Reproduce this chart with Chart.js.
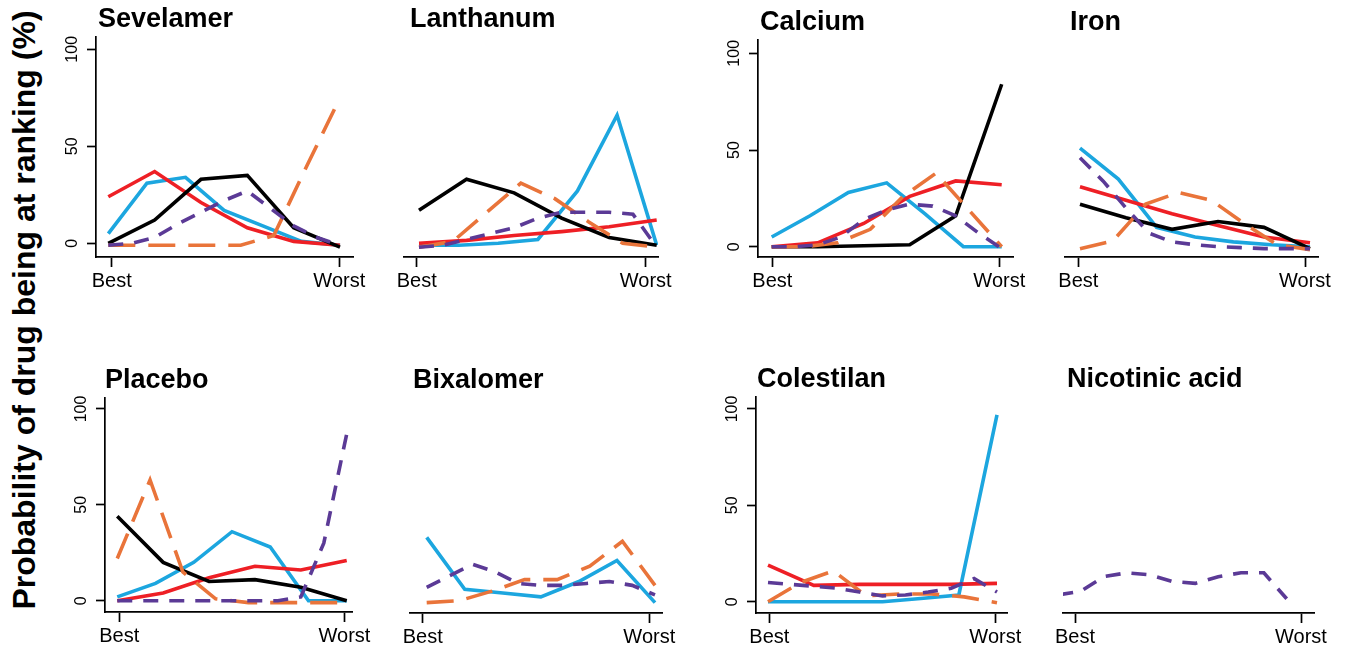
<!DOCTYPE html>
<html><head><meta charset="utf-8">
<script src="https://cdn.jsdelivr.net/npm/chart.js@4.4.1/dist/chart.umd.min.js"></script>
<style>
html,body{margin:0;padding:0;background:#fff;}
body{width:1349px;height:648px;position:relative;overflow:hidden;font-family:"Liberation Sans",Arial,sans-serif;}
canvas.panel{position:absolute;}
#ytitle{position:absolute;left:-326px;top:289.5px;width:700px;height:40px;line-height:40px;text-align:center;font-weight:bold;font-size:32px;transform:rotate(-90deg);white-space:nowrap;color:#000;}
</style></head><body>
<div id="ytitle">Probability of drug being at ranking (%)</div>
<script>
// ---------- DATA ----------
const drugs = ['Sevelamer','Lanthanum','Calcium','Iron','Placebo','Bixalomer','Colestilan','Nicotinic acid'];
const rankLabels = ['Best','Worst'];
const yTickValues = [0, 50, 100];

// one entry per drug (same order as drugs); null = drug not in that network
const redLine = [
  [24, 37, 21, 8, 1, -1],
  [0, 1.5, 4, 6, 8.5, 12],
  [0, 2, 12, 26, 34, 32],
  [31, 24, 17, 11, 5, 2],
  [0, 4, 12, 18, 16, 21],
  null,
  [19, 8.5, 9, 9, 9, 9.5],
  null
];
const blueLine = [
  [5, 31, 34, 17, 9, 1, -1],
  [-1, -1, 0, 2, 27, 66, -1],
  [5, 16, 28, 33, 17, 0, 0],
  [51, 35, 10, 5, 2.5, 1, 0],
  [2, 9, 20, 36, 28, 0, 0],
  [33, 6, 4, 2, 10, 21, -1],
  [0, 0, 0, 0, 1.7, 3.5, 97],
  null
];
const blackLine = [
  [0, 12, 33, 35, 8, -2],
  [17, 33, 26, 13, 3, -1],
  [0, 0, 0.5, 1, 16, 84],
  [22, 15, 9, 13, 10, -1],
  [44, 20, 10, 11, 7, 0],
  null,
  null,
  null
];
const orangeLine = [
  [-1, -1, -1, -1, -1, 4, 40, 75],
  [-2, 1, 16, 31, 23, 11, 0, -2],
  [0, 0, 2, 9, 26, 38, 19, 0],
  [-1, 3, 22, 28, 24, 12, 1, -1.5],
  [22, 63, 15, 1, -1, -1, -1, -1],
  [-1, 0, 5, 11, 11, 18, 31, 8],
  [0, 10, 16, 3, 4, 4, 2.5, -0.5],
  null
];
const purpleLine = [
  [-1, 0, 3, 10, 16, 22, 27, 18, 9, 3, -1],
  [-2, -1, 2, 5, 8, 13, 16, 16, 16, 15, -2],
  [0, 0, 1, 5, 14, 19, 22, 21, 16, 7, -1],
  [46, 34, 20, 7, 2.5, 1, 0, -0.5, -1, -1, -1],
  [0, 0, 0, 0, 0, 0, 0, 0, 2, 30, 87],
  [7, 13, 19, 15, 9, 8, 8, 9, 10, 8, 3],
  [10, 9, 8, 7, 5, 3, 3.5, 5, 7, 12, 5],
  [3.5, 5.5, 13, 15, 14, 10.5, 9.5, 13, 15, 15, 1.5]
];

// ---------- LAYOUT / STYLE ----------
// axL/axR/top/bot: axis extent (px); s/e: where ranks Best..Worst of the lines fall; best/worst: tick positions
const layout = [
  {axL:96,  axR:353,  top:37,  bot:257, s:108.3,  e:340,    best:111.7,  worst:339.3,  y0:243.3, y100:49.3, showY:true,  dx:2},
  {axL:404, axR:658,  top:37,  bot:257, s:419,    e:656.7,  best:416.7,  worst:645.7,  y0:243.3, y100:49.3, showY:false, dx:6},
  {axL:758, axR:1013, top:40,  bot:257, s:771.7,  e:1001.7, best:772.3,  worst:999.3,  y0:246.7, y100:53.3, showY:true,  dx:2},
  {axL:1065,axR:1318, top:40,  bot:257, s:1080,   e:1310,   best:1078.3, worst:1305,   y0:246.7, y100:53.3, showY:false, dx:5},
  {axL:105, axR:353,  top:398, bot:612, s:117.3,  e:347.3,  best:119.3,  worst:345,    y0:600.7, y100:409,  showY:true,  dx:0},
  {axL:410, axR:662,  top:398, bot:613, s:426.7,  e:655,    best:422.7,  worst:649.3,  y0:600.7, y100:409,  showY:false, dx:3},
  {axL:756, axR:1007, top:397, bot:613, s:768,    e:997,    best:769.3,  worst:995.3,  y0:601.7, y100:409,  showY:true,  dx:1},
  {axL:1063,axR:1314, top:397, bot:613, s:1058.3, e:1286.7, best:1075,   worst:1301,   y0:601.7, y100:409,  showY:false, dx:4}
];

const series = [
  {name:'purple', values: purpleLine, color:'#5B3A96', dash:[15,11]},
  {name:'orange', values: orangeLine, color:'#E9743A', dash:[27,13]},
  {name:'black',  values: blackLine,  color:'#000000', dash:[]},
  {name:'red',    values: redLine,    color:'#EE1F25', dash:[]},
  {name:'blue',   values: blueLine,   color:'#1CA6DF', dash:[]}
];

const FONT = '"Liberation Sans", Arial, Helvetica, sans-serif';

const titlePlugin = {
  id: 'panelTitle',
  afterDraw(chart, args, opts) {
    const {ctx, chartArea} = chart;
    ctx.save();
    ctx.font = 'bold 27px ' + FONT;
    ctx.fillStyle = '#000';
    ctx.textAlign = 'left';
    ctx.textBaseline = 'alphabetic';
    ctx.fillText(opts.text, chartArea.left + opts.dx, chartArea.top - 10);
    ctx.restore();
  }
};

function toPoints(vals) {
  const n = vals.length;
  return vals.map((y, i) => ({x: i / (n - 1), y: y}));
}

drugs.forEach((drug, p) => {
  const L = layout[p];
  const cv = document.createElement('canvas');
  cv.className = 'panel';
  const W = (L.axR - L.axL) + 80;
  const H = (L.bot - L.top) + 85;
  cv.width = W; cv.height = H;
  cv.style.left = (L.axL - 60) + 'px';
  cv.style.top = (L.top - 40) + 'px';
  cv.style.width = W + 'px';
  cv.style.height = H + 'px';
  document.body.appendChild(cv);

  const unit = L.e - L.s;
  const xMin = (L.axL - L.s) / unit, xMax = (L.axR - L.s) / unit;
  const bestV = (L.best - L.s) / unit, worstV = (L.worst - L.s) / unit;
  const ppu = (L.y0 - L.y100) / 100;
  const yMin = -(L.bot - L.y0) / ppu, yMax = (L.y0 - L.top) / ppu;

  const datasets = [];
  series.forEach(s => {
    const vals = s.values[p];
    if (!vals) return;
    datasets.push({
      label: s.name,
      data: toPoints(vals),
      borderColor: s.color,
      backgroundColor: s.color,
      borderWidth: 3.6,
      borderDash: s.dash,
      borderCapStyle: 'butt',
      borderJoinStyle: 'miter',
      pointRadius: 0,
      tension: 0,
      fill: false
    });
  });

  const axisCommon = {
    grid: {drawOnChartArea:false, drawTicks:true, tickWidth:1.7, tickColor:'#000'},
    border: {display:true, color:'#000', width:1.7}
  };

  new Chart(cv, {
    type: 'line',
    data: {datasets},
    options: {
      responsive: false,
      animation: false,
      events: [],
      layout: {padding: {left: 0, top: 40, right: 20, bottom: 0}},
      plugins: {
        legend: {display:false},
        tooltip: {enabled:false},
        panelTitle: {text: drug, dx: L.dx}
      },
      scales: {
        x: {
          type: 'linear', min: xMin, max: xMax,
          afterBuildTicks: sc => { sc.ticks = [{value: bestV}, {value: worstV}]; },
          afterFit: sc => { sc.height = 45; },
          ticks: {callback: (v, i) => rankLabels[i], font: {family: FONT, size: 20}, color:'#000', padding: 2, minRotation:0, maxRotation:0, autoSkip:false},
          grid: Object.assign({}, axisCommon.grid, {tickLength: 10}),
          border: axisCommon.border
        },
        y: {
          type: 'linear', display: L.showY, min: yMin, max: yMax,
          afterBuildTicks: sc => { sc.ticks = yTickValues.map(v => ({value: v})); },
          afterFit: sc => { sc.width = 60; },
          ticks: {callback: v => String(v), font: {family: FONT, size: 16}, color:'#000', padding: 1, minRotation:90, maxRotation:90, crossAlign:'center', autoSkip:false},
          grid: Object.assign({}, axisCommon.grid, {tickLength: 9}),
          border: axisCommon.border
        }
      }
    },
    plugins: [titlePlugin]
  });
});
</script></body></html>
